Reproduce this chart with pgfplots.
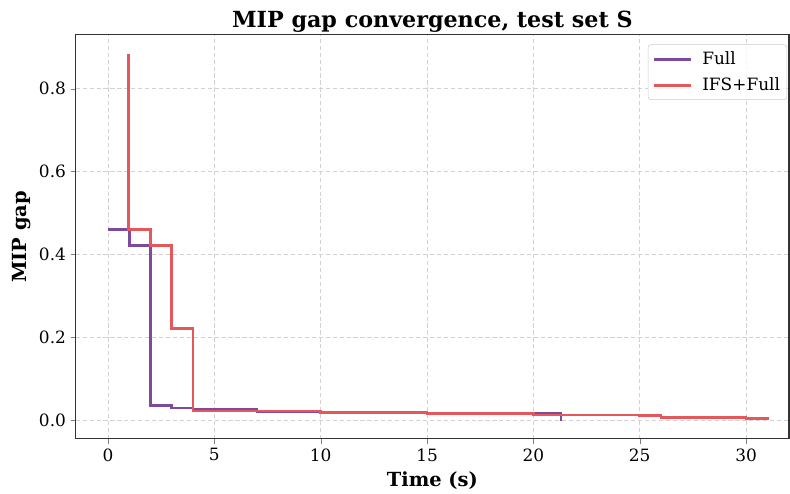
\documentclass[border=0pt]{standalone}
\usepackage{fontspec}
\setmainfont{DejaVu Serif}
\usepackage{pgfplots}
\pgfplotsset{compat=1.18}
\usetikzlibrary{calc}
\definecolor{cfull}{HTML}{7D4A9E}
\definecolor{cifs}{HTML}{E6575C}
\definecolor{spine}{HTML}{333333}

\begin{document}
\begin{tikzpicture}
  \begin{axis}[
    name=ax,
    scale only axis,
    width=513.6pt, height=290.9pt,
    xmin=-1.52, xmax=32.02,
    ymin=-0.0452, ymax=0.9305,
    xtick={0,5,10,15,20,25,30},
    ytick={0,0.2,0.4,0.6,0.8},
    yticklabel style={/pgf/number format/.cd, fixed, fixed zerofill, precision=1},
    /pgf/number format/assume math mode=true,
    tick label style={font=\fontsize{12.2}{14}\selectfont},
    tick align=outside, tick pos=left,
    major tick length=3.5pt,
    grid=major, grid style={densely dashed, gray!35, line width=0.6pt},
    axis line style={spine, line width=0.8pt},
    title={\textbf{MIP gap convergence, test set S}},
    title style={font=\fontsize{16}{19}\selectfont, at={(axis description cs:0.5,1)}, anchor=base, yshift=-0.5pt},
    xlabel={\textbf{Time (s)}},
    ylabel={\textbf{MIP gap}},
    label style={font=\fontsize{14}{16}\selectfont},
    xlabel style={at={(axis description cs:0.5,0)}, anchor=base, yshift=-34.6pt},
    ylabel style={at={(axis description cs:-0.0626,0.5)}, anchor=south, inner sep=0pt},
    legend style={at={(0.9975,0.976)}, anchor=north east, draw=gray!40, rounded corners=2pt,
      font=\fontsize{12.2}{14.5}\selectfont, fill=white, fill opacity=0.8, text opacity=1,
      row sep=4pt, column sep=5pt, inner xsep=3pt, inner ysep=3pt},
    legend cell align=left,
    legend image code/.code={\draw[#1, line width=2pt] (0pt,0pt) -- (27pt,0pt);},
  ]
    \addplot[cfull, line width=2pt, const plot mark left]
      coordinates {(0,0.460)(1,0.422)(2,0.036)(3,0.029)(4,0.025)(7,0.020)(10,0.018)(15,0.016)(21.3,0.016)(21.3,-0.003)};
    \addplot[cifs, line width=2pt, const plot mark left]
      coordinates {(0.95,0.884)(0.95,0.460)(2,0.422)(3,0.221)(4,0.022)(10,0.018)(15,0.015)(20,0.012)(25,0.010)(26,0.0065)(30,0.004)(31,0.004)(31,0.0)};
    \legend{Full, IFS+Full}
  \end{axis}
  \pgfresetboundingbox
  \path[use as bounding box] ($(ax.south west)+(-54.5pt,-39.1pt)$) rectangle ($(ax.north east)+(0.7pt,25pt)$);
\end{tikzpicture}
\end{document}
